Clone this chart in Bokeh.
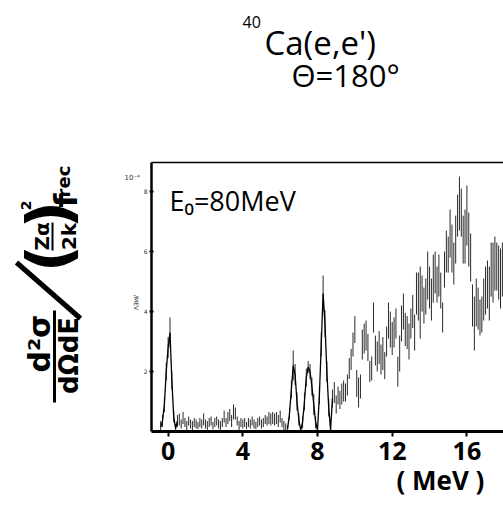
import math
from bokeh.plotting import figure
from bokeh.layouts import column, row
from bokeh.models import Range1d, LinearAxis, FixedTicker, Label, Arrow, ColumnDataSource, Title
from bokeh.embed import file_html
from bokeh.resources import INLINE

# ---------------- data ----------------
# excitation energy grid (MeV): first bin and bin width
e_start = -0.4
e_step = 0.1

# reduced cross section (x10^-4 /MeV), one value per bin
cross_section = [
    0.15, 0.35, 0.9, 2.0, 2.8, 3.3, 1.7, 0.5, 0.1, 0.35,
    0.4, 0.25, 0.45, 0.3, 0.2, 0.35, 0.25, 0.2, 0.3, 0.25,
    0.2, 0.3, 0.25, 0.4, 0.25, 0.2, 0.3, 0.35, 0.2, 0.3,
    0.35, 0.25, 0.2, 0.3, 0.5, 0.3, 0.45, 0.55, 0.35, 0.65,
    0.6, 0.35, 0.2, 0.3, 0.25, 0.3, 0.2, 0.3, 0.25, 0.35,
    0.25, 0.2, 0.3, 0.35, 0.25, 0.3, 0.4, 0.35, 0.45, 0.4,
    0.45, 0.4, 0.45, 0.35, 0.5, 0.3, 0.2, 0.15, 0.1, 0.6,
    1.4, 2.2, 1.9, 1.0, 0.4, 0.05, 0.3, 1.0, 1.8, 2.15,
    2.0, 1.5, 0.9, 0.3, 0.05, 1.2, 2.9, 4.6, 3.6, 2.0,
    0.8, 0.05, 1.1, 1.3, 0.9, 1.2, 1.05, 1.25, 1.35, 1.3,
    1.55, 2.1, 2.4, 2.9, 3.4, 1.6, 1.3, 1.5, 2.9, 3.1,
    3.2, 2.8, 2.0, 2.1, 3.8, 2.7, 2.5, 2.8, 2.4, 2.6,
    2.2, 3.0, 3.7, 3.4, 3.1, 3.3, 3.6, 2.0, 2.6, 3.6,
    4.0, 3.4, 3.3, 3.0, 3.6, 4.0, 3.3, 4.6, 4.5, 4.3,
    4.6, 4.2, 4.5, 5.2, 4.8, 4.4, 5.1, 5.3, 4.9, 5.2,
    4.7, 3.8, 5.4, 6.0, 5.9, 6.6, 6.1, 5.6, 6.4, 7.2,
    7.6, 7.3, 6.4, 6.5, 7.2, 6.4, 5.8, 4.2, 3.6, 4.3,
    4.1, 3.8, 3.9, 4.4, 4.7, 4.9, 4.6, 5.4, 5.3, 5.6,
    5.5, 5.3, 5.1, 5.4,
]

# statistical error (half length of each vertical bar)
errors = [
    0.2, 0.2, 0.25, 0.3, 0.35, 0.5, 0.3, 0.2, 0.15, 0.2,
    0.2, 0.15, 0.2, 0.15, 0.15, 0.15, 0.15, 0.15, 0.15, 0.15,
    0.12, 0.15, 0.15, 0.2, 0.15, 0.15, 0.15, 0.15, 0.12, 0.15,
    0.15, 0.15, 0.15, 0.15, 0.2, 0.15, 0.2, 0.2, 0.2, 0.25,
    0.2, 0.15, 0.15, 0.15, 0.15, 0.15, 0.12, 0.15, 0.15, 0.15,
    0.15, 0.12, 0.15, 0.15, 0.15, 0.15, 0.15, 0.15, 0.2, 0.2,
    0.2, 0.2, 0.2, 0.2, 0.2, 0.15, 0.15, 0.12, 0.1, 0.2,
    0.3, 0.5, 0.35, 0.3, 0.2, 0.1, 0.2, 0.3, 0.3, 0.2,
    0.25, 0.3, 0.35, 0.2, 0.1, 0.3, 0.4, 0.6, 0.45, 0.35,
    0.3, 0.1, 0.3, 0.35, 0.3, 0.3, 0.3, 0.35, 0.35, 0.3,
    0.35, 0.35, 0.35, 0.4, 0.45, 0.45, 0.5, 0.4, 0.5, 0.5,
    0.5, 0.45, 0.35, 0.4, 0.5, 0.5, 0.5, 0.55, 0.5, 0.55,
    0.45, 0.5, 0.6, 0.6, 0.55, 0.5, 0.5, 0.5, 0.6, 0.6,
    0.6, 0.55, 0.55, 0.6, 0.5, 0.55, 0.6, 0.7, 0.8, 1.2,
    0.6, 0.6, 0.6, 0.8, 0.7, 0.7, 0.8, 0.7, 0.6, 0.7,
    0.6, 0.5, 0.6, 0.7, 0.6, 0.8, 0.8, 0.7, 0.8, 0.7,
    0.9, 0.8, 0.8, 0.9, 1.0, 0.9, 0.8, 0.7, 0.9, 0.8,
    0.7, 0.6, 0.6, 0.7, 0.8, 0.8, 0.9, 0.9, 1.0, 0.9,
    0.8, 0.9, 1.0, 0.9,
]

# energy windows in which the peak shapes are drawn as a connected line
line_windows = [(-0.4, 0.5), (6.4, 8.8)]

x_ticks = [0, 4, 8, 12, 16]
y_ticks = [2, 4, 6, 8]

assert len(cross_section) == len(errors)
energies = [round(e_start + e_step * i, 2) for i in range(len(cross_section))]

lo = [max(0.0, v - e) for v, e in zip(cross_section, errors)]
hi = [v + e for v, e in zip(cross_section, errors)]
line_y = [v if any(a - 1e-9 <= x <= b + 1e-9 for a, b in line_windows) else float("nan")
          for x, v in zip(energies, cross_section)]

# ---------------- layout (page pixel geometry) ----------------
W, H = 503, 508
TOP_H = 160          # title strip
LEFT_W = 140         # y-label strip
FL, FR, FT, FB = 149, 503, 162, 431   # main plot frame in page coordinates
BASE_SHIFT = 0.375   # renderer puts the alphabetic baseline this many em lower


def blank(w, h):
    f = figure(width=w, height=h, output_backend="svg", toolbar_location=None,
               x_range=Range1d(0, 1), y_range=Range1d(0, 1),
               x_axis_location=None, y_axis_location=None, min_border=0)
    f.grid.visible = False
    f.outline_line_color = None
    f.background_fill_color = "white"
    f.border_fill_color = "white"
    return f


top_fig = blank(W, TOP_H)
left_fig = blank(LEFT_W, H - TOP_H)


def lab(fig, ox, oy, text, cx, cy, size, angle=0.0, align="left", baseline="alphabetic",
        font="Open Sans", style="normal", color="black"):
    # (ox, oy): page position of the figure frame's bottom-left corner
    if baseline == "alphabetic":
        cx -= BASE_SHIFT * size * math.sin(angle)
        cy -= BASE_SHIFT * size * math.cos(angle)
    fig.add_layout(Label(x=cx - ox, y=oy - cy, x_units="screen", y_units="screen", text=text,
                         text_font_size=f"{size}px", text_font=font, text_font_style=style,
                         text_align=align, text_baseline=baseline, angle=angle,
                         text_color=color))


def bar(fig, ox, oy, cx0, cy0, cx1, cy1, width):
    fig.add_layout(Arrow(start=None, end=None, x_start=cx0 - ox, y_start=oy - cy0,
                         x_end=cx1 - ox, y_end=oy - cy1, start_units="screen",
                         end_units="screen", line_color="black", line_width=width))


# ---- title strip
T0 = (0, TOP_H)
lab(top_fig, *T0, "40", 242, 27, 16)
lab(top_fig, *T0, "Ca(e,e')", 264, 54, 33)
lab(top_fig, *T0, "Θ=180°", 291, 86, 31)

# ---- left strip: rotated y label  d²σ/dΩdE / (Zα/2k)² f_rec
# (row layout aligns this strip's frame with the main frame: page y 162..431)
L0 = (0, FB)
R = math.pi / 2
F = "DejaVu Sans"
lab(left_fig, *L0, "d²σ", 50, 343, 30, angle=R, align="center", font=F, style="bold")
bar(left_fig, *L0, 54, 310, 54, 402, 3)
lab(left_fig, *L0, "dΩdE", 78, 355, 26, angle=R, align="center", font=F, style="bold")
bar(left_fig, *L0, 16, 262, 80, 318, 5)
lab(left_fig, *L0, "(", 71, 258, 60, angle=R, align="center", font=F, style="bold")
lab(left_fig, *L0, "Zα", 49, 236, 20, angle=R, align="center", font=F, style="bold")
bar(left_fig, *L0, 52, 222, 52, 250, 2)
lab(left_fig, *L0, "2k", 76, 236, 20, angle=R, align="center", font=F, style="bold")
lab(left_fig, *L0, ")", 71, 214, 60, angle=R, align="center", font=F, style="bold")
lab(left_fig, *L0, "2", 31, 205, 14, angle=R, align="center", font=F, style="bold")
lab(left_fig, *L0, "f", 77, 200, 32, angle=R, align="center", font=F, style="bold")
lab(left_fig, *L0, "rec", 70, 181, 18, angle=R, align="center", font=F, style="bold")
# small unit marks next to the axis
lab(left_fig, *L0, "10⁻⁴", 124, 180, 7, font=F, color="#333333")
lab(left_fig, *L0, "/MEV", 136, 302, 6, angle=-R, align="center", baseline="middle",
    font=F, color="#333333")

# ---- main plot
p = figure(width=W - LEFT_W, height=H - TOP_H, output_backend="svg", toolbar_location=None,
           x_range=Range1d(-0.89, 17.96), y_range=Range1d(0, 8.97),
           min_border_left=FL - LEFT_W, min_border_right=W - FR,
           min_border_top=FT - TOP_H, min_border_bottom=H - FB)
p.grid.visible = False
p.outline_line_color = None
p.background_fill_color = "white"
p.border_fill_color = "white"

src = ColumnDataSource(dict(x=energies, lo=lo, hi=hi, y=line_y))
p.segment(x0="x", y0="lo", x1="x", y1="hi", source=src, line_color="#2a2a2a", line_width=1)
p.line(x="x", y="y", source=src, line_color="black", line_width=1.3)

xa = p.xaxis[0]
xa.ticker = FixedTicker(ticks=x_ticks)
xa.axis_line_width = 3
xa.axis_line_color = "black"
xa.major_tick_in = 0
xa.major_tick_out = 5
xa.major_tick_line_width = 2
xa.minor_tick_line_color = None
xa.major_label_standoff = 5
xa.major_label_text_font = "Open Sans"
xa.major_label_text_font_style = "bold"
xa.major_label_text_font_size = "25px"
xa.major_label_text_color = "black"

ya = p.yaxis[0]
ya.ticker = FixedTicker(ticks=y_ticks)
ya.axis_line_width = 2.5
ya.axis_line_color = "black"
ya.major_tick_in = 2
ya.major_tick_out = 2
ya.major_tick_line_width = 2
ya.minor_tick_line_color = None
ya.major_label_standoff = 2
ya.major_label_text_font = "DejaVu Sans"
ya.major_label_text_font_size = "6px"
ya.major_label_text_color = "#333333"

top = LinearAxis(ticker=FixedTicker(ticks=[]), axis_line_width=1.5, axis_line_color="black",
                 major_tick_line_color=None, minor_tick_line_color=None,
                 major_tick_out=0, major_tick_in=0, major_label_standoff=0,
                 major_label_text_font_size="0px")
p.add_layout(top, "above")

p.add_layout(Title(text="( MeV )", align="left", offset=394 - FL, text_font="Open Sans",
                   text_font_style="bold", text_font_size="26px", text_color="black",
                   standoff=-5), "below")

M0 = (FL, FB)
lab(p, *M0, "E₀=80MeV", 167, 210, 27)

layout = column(top_fig, row(left_fig, p, spacing=0), spacing=0)
open("out.html", "w").write(file_html(layout, INLINE))
